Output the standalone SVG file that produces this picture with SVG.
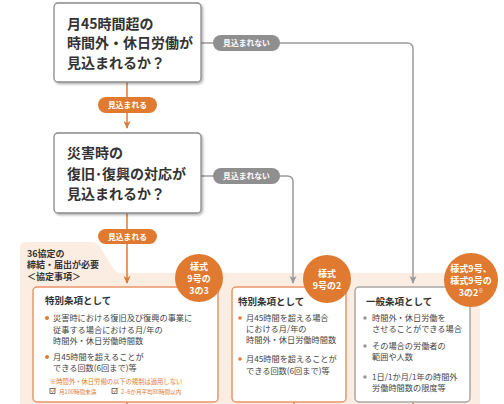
<svg xmlns="http://www.w3.org/2000/svg" width="504" height="404" viewBox="0 0 504 404">
<style>
text{font-family:"Noto Sans CJK JP","Noto Sans",sans-serif;}
.q{font-size:14px;font-weight:bold;fill:#333;}
.pill{font-size:7.8px;font-weight:bold;fill:#fff;text-anchor:middle;}
.t{font-size:9.5px;font-weight:bold;fill:#333;}
.p{font-size:9px;font-weight:bold;fill:#333;}
.b{font-size:8.2px;fill:#444;}
.c{font-size:9px;font-weight:bold;fill:#fff;text-anchor:middle;}
.s{font-size:6.3px;fill:#e07a30;}
.og{fill:none;stroke:#e07a30;stroke-width:1.5;}
.gr{fill:none;stroke:#9a9a9a;stroke-width:1.5;}
</style>
<defs>
<marker id="ao" markerWidth="8" markerHeight="8" refX="7" refY="4" orient="auto" markerUnits="userSpaceOnUse" viewBox="0 0 8 8"><path d="M0,0.5 L8,4 L0,7.5 L2,4 Z" fill="#e07a30"/></marker>
<marker id="ag" markerWidth="8" markerHeight="8" refX="7" refY="4" orient="auto" markerUnits="userSpaceOnUse" viewBox="0 0 8 8"><path d="M0,0.5 L8,4 L0,7.5 L2,4 Z" fill="#9a9a9a"/></marker>
<filter id="sh" x="-5%" y="-5%" width="115%" height="120%"><feDropShadow dx="1.5" dy="1.5" stdDeviation="0.8" flood-color="#000" flood-opacity="0.3"/></filter>
</defs>

<g id="panel">
<path d="M20,248 Q20,242 26,242 L92,242 Q97,242 100,247 L113,268 Q116,273 122,273 L480,273 L480,404 L20,404 Z" fill="#fcede2"/>
<text class="p" x="27" y="256.5">36協定の</text>
<text class="p" x="27" y="268">締結・届出が必要</text>
<text class="p" x="27" y="279.5">＜協定事項＞</text>
</g>

<g id="connectors">
<path class="og" d="M127,82 V128" marker-end="url(#ao)"/>
<path class="og" d="M127,213 V283" marker-end="url(#ao)"/>
<path class="gr" d="M201,43 H407 Q413,43 413,49 V283" marker-end="url(#ag)"/>
<path class="gr" d="M201,176 H287 Q293,176 293,182 V283" marker-end="url(#ag)"/>
<path class="og" d="M127,402 V404"/>
<path class="og" d="M294,402 V404"/>
<path class="og" d="M413,402 V404"/>
</g>

<g id="q1">
<rect x="54" y="3" width="147" height="79" rx="4" fill="#fff" stroke="#8a8a8a" stroke-width="1.3" filter="url(#sh)"/>
<text class="q" x="67" y="29">月45時間超の</text>
<text class="q" x="67" y="48">時間外・休日労働が</text>
<text class="q" x="67" y="68">見込まれるか？</text>
</g>

<g id="q2">
<rect x="54" y="133" width="147" height="80" rx="4" fill="#fff" stroke="#8a8a8a" stroke-width="1.3" filter="url(#sh)"/>
<text class="q" x="67" y="158">災害時の</text>
<text class="q" x="67" y="179">復旧･復興の対応が</text>
<text class="q" x="67" y="199">見込まれるか？</text>
</g>

<g id="pill-no1">
<rect x="213" y="35" width="67" height="16" rx="8" fill="#8f8f8f"/>
<text class="pill" x="246.5" y="46">見込まれない</text>
</g>
<g id="pill-no2">
<rect x="213" y="168" width="67" height="16" rx="8" fill="#8f8f8f"/>
<text class="pill" x="246.5" y="179">見込まれない</text>
</g>
<g id="pill-yes1">
<rect x="98" y="97" width="59" height="16" rx="8" fill="#e07a30"/>
<text class="pill" x="127.5" y="108">見込まれる</text>
</g>
<g id="pill-yes2">
<rect x="98" y="229" width="59" height="15" rx="7.5" fill="#e07a30"/>
<text class="pill" x="127.5" y="239.5">見込まれる</text>
</g>

<g id="boxA">
<rect x="33" y="287" width="185" height="115" rx="4" fill="#fff" stroke="#e9956a" stroke-width="1.5"/>
<text class="t" x="45" y="304">特別条項として</text>
<circle cx="47" cy="318" r="2" fill="#e07a30"/>
<text class="b" x="53" y="321">災害時における復旧及び復興の事業に</text>
<text class="b" x="53" y="333">従事する場合における月/年の</text>
<text class="b" x="53" y="344">時間外・休日労働時間数</text>
<circle cx="47" cy="357" r="2" fill="#e07a30"/>
<text class="b" x="53" y="360">月45時間を超えることが</text>
<text class="b" x="53" y="371">できる回数(6回まで)等</text>
<text class="s" x="50" y="384">※時間外・休日労働の以下の規制は適用しない</text>
<rect x="50" y="388.5" width="5" height="5" fill="none" stroke="#555" stroke-width="0.8"/>
<path d="M51,390.5 L52.5,392.5 L56,387.5" fill="none" stroke="#e07a30" stroke-width="0.9"/>
<text class="s" x="59" y="394" style="font-size:5.6px">月100時間未満</text>
<rect x="112" y="388.5" width="5" height="5" fill="none" stroke="#555" stroke-width="0.8"/>
<path d="M113,390.5 L114.5,392.5 L118,387.5" fill="none" stroke="#e07a30" stroke-width="0.9"/>
<text class="s" x="121" y="394" style="font-size:5.6px">2~6か月平均80時間以内</text>
</g>

<g id="boxB">
<rect x="232" y="287" width="114" height="115" rx="4" fill="#fff" stroke="#e9956a" stroke-width="1.5"/>
<text class="t" x="238" y="305">特別条項として</text>
<circle cx="240" cy="318" r="1.8" fill="#e07a30"/>
<text class="b" x="246" y="321">月45時間を超える場合</text>
<text class="b" x="246" y="332">における月/年の</text>
<text class="b" x="246" y="343">時間外・休日労働時間数</text>
<circle cx="240" cy="359" r="1.8" fill="#e07a30"/>
<text class="b" x="246" y="362">月45時間を超えることが</text>
<text class="b" x="246" y="374">できる回数(6回まで)等</text>
</g>

<g id="boxC">
<rect x="355" y="287" width="115" height="115" rx="4" fill="#fff" stroke="#a8a8a8" stroke-width="1.5"/>
<text class="t" x="366" y="305">一般条項として</text>
<circle cx="365" cy="318" r="1.8" fill="#999"/>
<text class="b" x="372" y="321">時間外・休日労働を</text>
<text class="b" x="372" y="332">させることができる場合</text>
<circle cx="365" cy="346" r="1.8" fill="#999"/>
<text class="b" x="372" y="349">その場合の労働者の</text>
<text class="b" x="372" y="360">範囲や人数</text>
<circle cx="365" cy="377" r="1.8" fill="#999"/>
<text class="b" x="372" y="380">1日/1か月/1年の時間外</text>
<text class="b" x="372" y="391">労働時間数の限度等</text>
</g>

<g id="badge1">
<circle cx="199" cy="278" r="24" fill="#e07a30"/>
<text class="c" x="199" y="270">様式</text>
<text class="c" x="199" y="282">9号の</text>
<text class="c" x="199" y="294">3の3</text>
</g>
<g id="badge2">
<circle cx="327" cy="279" r="24" fill="#e07a30"/>
<text class="c" x="327" y="277">様式</text>
<text class="c" x="327" y="289">9号の2</text>
</g>
<g id="badge3">
<circle cx="471" cy="280" r="27" fill="#e07a30"/>
<text class="c" x="471" y="272">様式9号、</text>
<text class="c" x="471" y="284">様式9号の</text>
<text class="c" x="471" y="296">3の2<tspan font-size="5" dy="-4">※</tspan></text>
</g>
</svg>
